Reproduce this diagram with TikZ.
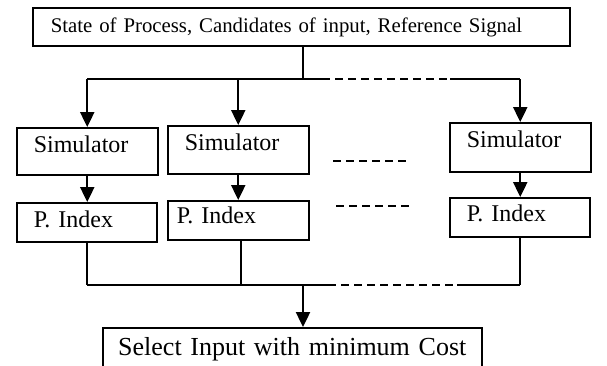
\documentclass[tikz,border=0pt]{standalone}
\usepackage{fontspec}
\setmainfont{Liberation Serif}
\usetikzlibrary{arrows.meta}

\begin{document}
\begin{tikzpicture}[x=1pt, y=-1pt,
    box/.style={draw, line width=1.5pt, anchor=north west, align=left,
                inner ysep=0pt, inner xsep=17pt, text height=25pt},
    conn/.style={line width=1.5pt},
    gapline/.style={line width=1.5pt, dash pattern=on 8pt off 5pt},
    flow/.style={line width=2.4pt, -{Triangle[width=14pt, length=15pt]}}]

\useasboundingbox (0,0) rectangle (607,365);

% === Entrada ===
\node[box, inner xsep=18pt, text width=501pt, text depth=13pt,
      font=\fontsize{20.8}{24}\selectfont] (state) at (32,7)
    {State of Process, Candidates of input, Reference Signal};

% === Simuladores ===
\node[box, text width=107pt, text depth=22pt, font=\fontsize{24}{28}\selectfont]
    (sim1) at (16,127) {Simulator};
\node[box, text width=107pt, text depth=23pt, font=\fontsize{24}{28}\selectfont]
    (sim2) at (167,125) {Simulator};
\node[box, text width=107pt, text depth=24pt, font=\fontsize{24}{28}\selectfont]
    (sim3) at (449,122) {Simulator};

% === Indices ===
\node[box, text width=106pt, text depth=14pt, font=\fontsize{24}{28}\selectfont]
    (pidx1) at (16,202) {P. Index};
\node[box, inner xsep=9pt, text width=123pt, text height=23pt, text depth=16pt,
      font=\fontsize{24}{28}\selectfont]
    (pidx2) at (167,200) {P. Index};
\node[box, text width=106pt, text height=24pt, text depth=15pt,
      font=\fontsize{24}{28}\selectfont]
    (pidx3) at (449,197) {P. Index};

% === Salida ===
\node[box, align=center, inner xsep=10pt, text width=359pt, text height=28pt,
      text depth=22pt, font=\fontsize{26}{30}\selectfont]
    (select) at (102,327) {Select Input with minimum Cost};

% === Bus superior ===
\coordinate (split) at (303,79);
\coordinate (busL) at (322,79);
\coordinate (busR) at (450,79);
\draw[conn] (state.south -| split) -- (split);
\draw[conn] (split -| sim1.north) -- (busL);
\draw[gapline] (busL) -- (busR);
\draw[conn] (busR) -- (split -| sim3.north);
\draw[flow] (split -| sim1.north) -- (sim1.north);
\draw[flow] (split -| sim2.north) -- (sim2.north);
\draw[flow] (split -| sim3.north) -- (sim3.north);

% === Simulador -> indice ===
\draw[flow] (sim1.south) -- (sim1.south |- pidx1.north);
\draw[flow] (sim2.south) -- (sim2.south |- pidx2.north);
\draw[flow] (sim3.south) -- (sim3.south |- pidx3.north);

% === Columnas omitidas ===
\coordinate (moreA1) at (333,161);
\coordinate (moreA2) at (410,161);
\coordinate (moreB1) at (336,206);
\coordinate (moreB2) at (410,206);
\draw[gapline] (moreA1) -- (moreA2);
\draw[gapline] (moreB1) -- (moreB2);

% === Bus inferior ===
\coordinate (merge) at (303,285);
\coordinate (mbusL) at (328,285);
\coordinate (mbusR) at (457,285);
\draw[conn] (pidx1.south) -- (pidx1.south |- merge);
\draw[conn] ([xshift=2.5pt]pidx2.south) -- ([xshift=2.5pt]pidx2.south |- merge);
\draw[conn] (pidx3.south) -- (pidx3.south |- merge);
\draw[conn] (merge -| pidx1.south) -- (mbusL);
\draw[gapline] (mbusL) -- (mbusR);
\draw[conn] (mbusR) -- (merge -| pidx3.south);
\draw[flow] (merge) -- (select.north -| merge);

\end{tikzpicture}
\end{document}
